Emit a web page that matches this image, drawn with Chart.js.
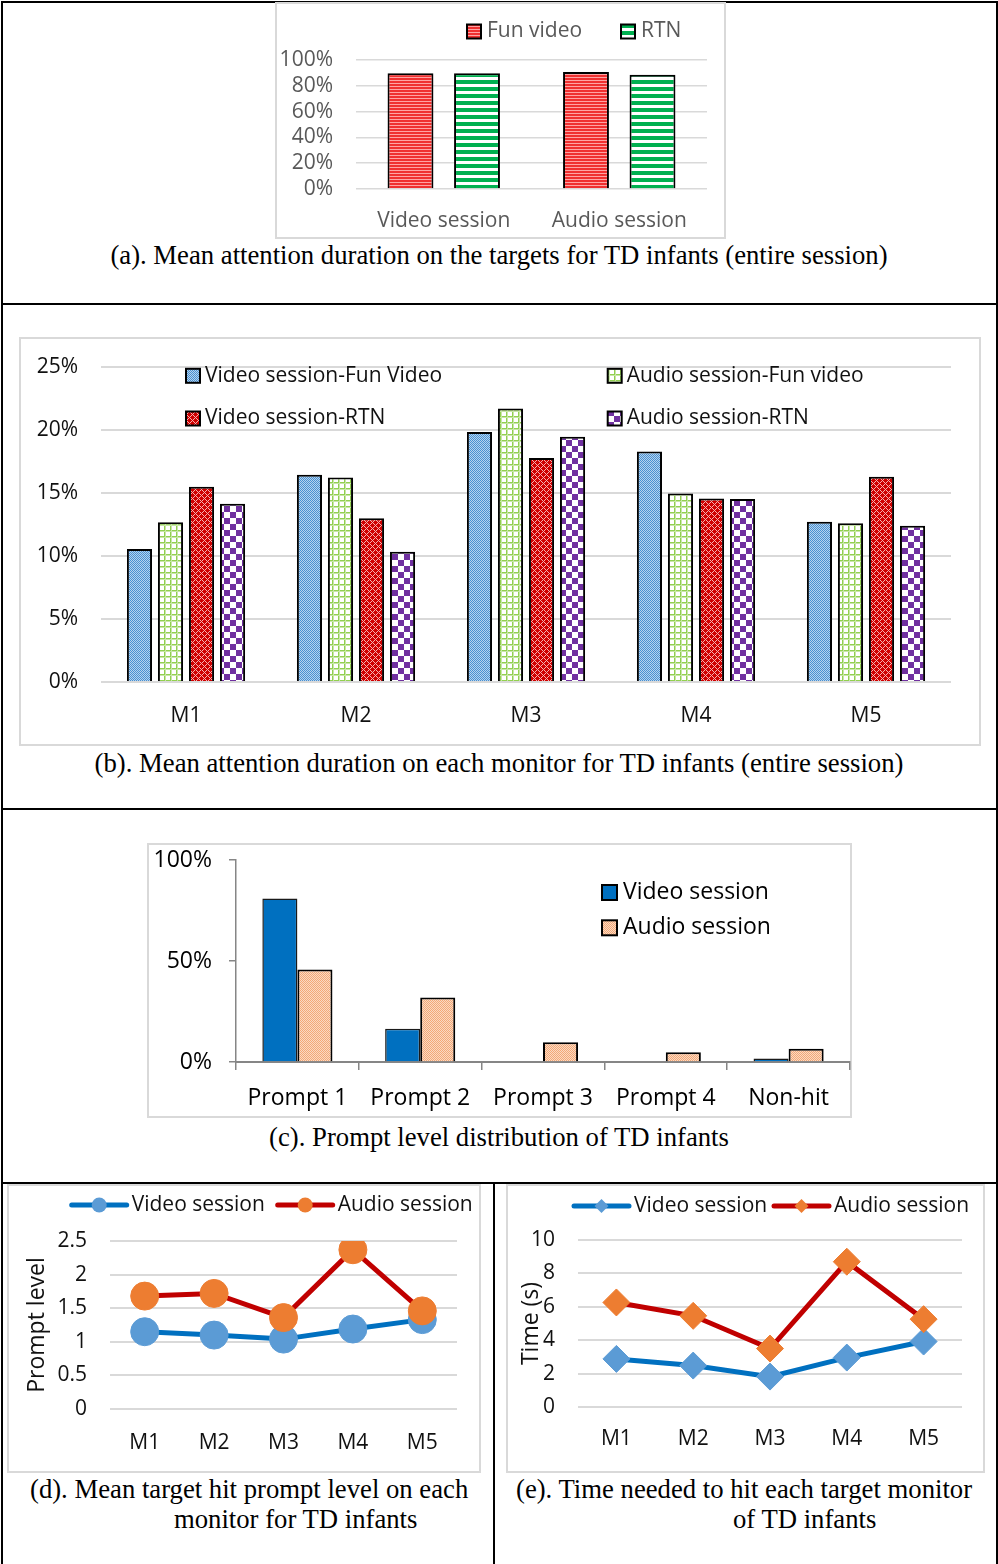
<!DOCTYPE html>
<html>
<head>
<meta charset="utf-8">
<script src="https://cdn.jsdelivr.net/npm/chart.js@4.4.1/dist/chart.umd.min.js"></script>
<style>
  body { margin: 0; background: #fff; }
  #page { position: relative; width: 998px; height: 1564px; overflow: hidden; background: #fff; }
  .rule { position: absolute; background: #000; }
  .frame { position: absolute; border: 2px solid #d9d9d9; box-sizing: border-box; }
  canvas { position: absolute; }
  .cap { position: absolute; font-family: 'Liberation Serif', 'Times New Roman', serif; font-size: 26.7px;
         line-height: 30px; color: #000; white-space: nowrap; }
  .center { left: 0; width: 998px; text-align: center; }
</style>
</head>
<body>
<div id="page">
  <!-- table rules -->
  <div class="rule" style="left:1px;top:1px;width:997px;height:2px"></div>
  <div class="rule" style="left:1px;top:1px;width:2px;height:1563px"></div>
  <div class="rule" style="left:996px;top:1px;width:2px;height:1563px"></div>
  <div class="rule" style="left:1px;top:303px;width:997px;height:2px"></div>
  <div class="rule" style="left:1px;top:808px;width:997px;height:2px"></div>
  <div class="rule" style="left:1px;top:1182px;width:997px;height:2px"></div>
  <div class="rule" style="left:493px;top:1182px;width:2px;height:382px"></div>

  <!-- chart frames -->
  <div class="frame" style="left:275px;top:2px;width:451px;height:237px"></div>
  <div class="frame" style="left:19px;top:337px;width:962px;height:409px"></div>
  <div class="frame" style="left:147px;top:843px;width:705px;height:275px"></div>
  <div class="frame" style="left:7px;top:1184px;width:474px;height:289px"></div>
  <div class="frame" style="left:506px;top:1184px;width:479px;height:289px"></div>

  <canvas id="chartA" width="449" height="235" style="left:276px;top:3px"></canvas>
  <canvas id="chartB" width="960" height="407" style="left:20px;top:338px"></canvas>
  <canvas id="chartC" width="703" height="273" style="left:148px;top:844px"></canvas>
  <canvas id="chartD" width="472" height="287" style="left:8px;top:1185px"></canvas>
  <canvas id="chartE" width="478" height="287" style="left:506px;top:1185px"></canvas>

  <div class="cap center" style="top:240px">(a). Mean attention duration on the targets for TD infants (entire session)</div>
  <div class="cap center" style="top:748px">(b). Mean attention duration on each monitor for TD infants (entire session)</div>
  <div class="cap center" style="top:1122px">(c). Prompt level distribution of TD infants</div>
  <div class="cap" style="left:30px;top:1474px">(d). Mean target hit prompt level on each</div>
  <div class="cap" style="left:174px;top:1504px">monitor for TD infants</div>
  <div class="cap" style="left:516px;top:1474px">(e). Time needed to hit each target monitor</div>
  <div class="cap" style="left:733px;top:1504px">of TD infants</div>
</div>

<script>
// (a) share of session time spent on the targets
var sessionLabels = ['Video session', 'Audio session'];
var funVideoShare = [0.897, 0.907];
var rtnShare = [0.897, 0.886];

// (b) share of time on each monitor
var monitorLabels = ['M1', 'M2', 'M3', 'M4', 'M5'];
var videoFunByMonitor = [0.1056, 0.1645, 0.1984, 0.1830, 0.1272];
var audioFunByMonitor = [0.1267, 0.1624, 0.2170, 0.1497, 0.1259];
var videoRtnByMonitor = [0.1550, 0.1300, 0.1778, 0.1457, 0.1629];
var audioRtnByMonitor = [0.1415, 0.1034, 0.1947, 0.1452, 0.1240];

// (c) prompt level distribution
var promptLabels = ['Prompt 1', 'Prompt 2', 'Prompt 3', 'Prompt 4', 'Non-hit'];
var videoPromptShare = [0.81, 0.165, 0, 0, 0.017];
var audioPromptShare = [0.458, 0.319, 0.098, 0.048, 0.066];

// (d) mean hit prompt level per monitor
var videoPromptLevel = [1.15, 1.10, 1.04, 1.19, 1.33];
var audioPromptLevel = [1.68, 1.72, 1.36, 2.37, 1.46];

// (e) time to hit per monitor, seconds
var videoHitTime = [2.88, 2.48, 1.82, 2.96, 3.92];
var audioHitTime = [6.26, 5.46, 3.50, 8.70, 5.26];

Chart.defaults.font.family = "'Open Sans', sans-serif";
Chart.defaults.animation = false;
Chart.defaults.devicePixelRatio = 1;

// Build a repeating fill from a tiny tile.
function tile(w, h, paint) {
    var c = document.createElement('canvas');
    c.width = w;
    c.height = h;
    paint(c.getContext('2d'));
    return c.getContext('2d').createPattern(c, 'repeat');
}

var redStripes = tile(1, 3, function(g) {
    g.fillStyle = '#f03030'; g.fillRect(0, 0, 1, 2);
    g.fillStyle = '#ffa3a3'; g.fillRect(0, 2, 1, 1);
});
var greenStripes = tile(1, 7, function(g) {
    g.fillStyle = '#ffffff'; g.fillRect(0, 0, 1, 7);
    g.fillStyle = '#00b050'; g.fillRect(0, 0, 1, 4);
});
var blueDots = tile(2, 2, function(g) {
    g.fillStyle = '#b4d3ef'; g.fillRect(0, 0, 2, 2);
    g.fillStyle = '#4a90d0'; g.fillRect(0, 0, 1, 1); g.fillRect(1, 1, 1, 1);
});
var greenGrid = tile(6, 6, function(g) {
    g.fillStyle = '#ffffff'; g.fillRect(0, 0, 6, 6);
    g.fillStyle = '#92d050'; g.fillRect(0, 0, 6, 1); g.fillRect(0, 0, 1, 6);
    g.fillStyle = '#c8e6a8'; g.fillRect(0, 1, 6, 1); g.fillRect(1, 0, 1, 6);
});
var redCross = tile(6, 6, function(g) {
    g.fillStyle = '#d00000'; g.fillRect(0, 0, 6, 6);
    g.fillStyle = '#f6b0b0';
    [[0, 0], [2, 0], [1, 1], [0, 2], [2, 2], [3, 3], [5, 3], [4, 4], [3, 5], [5, 5]].forEach(function(p) {
        g.fillRect(p[0], p[1], 1, 1);
    });
});
var purpleCheck = tile(12, 12, function(g) {
    g.fillStyle = '#ffffff'; g.fillRect(0, 0, 12, 12);
    g.fillStyle = '#7030a0'; g.fillRect(0, 0, 6, 6); g.fillRect(6, 6, 6, 6);
});
var peachDots = tile(2, 2, function(g) {
    g.fillStyle = '#fbd9c2'; g.fillRect(0, 0, 2, 2);
    g.fillStyle = '#f2a877'; g.fillRect(0, 0, 1, 1); g.fillRect(1, 1, 1, 1);
});

function drawMarker(ctx, style, x, y, r, fill) {
    ctx.fillStyle = fill;
    ctx.beginPath();
    if (style === 'rectRot') {
        ctx.moveTo(x, y - r); ctx.lineTo(x + r, y); ctx.lineTo(x, y + r); ctx.lineTo(x - r, y);
        ctx.closePath();
    } else {
        ctx.arc(x, y, r, 0, Math.PI * 2);
    }
    ctx.fill();
}

// Legend drawn at fixed spots, one per dataset, in the Excel style.
var placedLegend = {
    id: 'placedLegend',
    afterDraw: function(chart, _args, opts) {
        if (!opts.spots) {
            return;
        }
        var ctx = chart.ctx;
        ctx.save();
        ctx.font = opts.font;
        ctx.textBaseline = 'middle';
        ctx.textAlign = 'left';
        chart.data.datasets.forEach(function(ds, i) {
            var x = opts.spots[i][0];
            var y = opts.spots[i][1];
            var textX;
            if (opts.swatch === 'box') {
                var s = opts.size;
                ctx.fillStyle = ds.backgroundColor;
                ctx.fillRect(x, y - s / 2, s, s);
                ctx.lineWidth = 2;
                ctx.strokeStyle = '#000';
                ctx.strokeRect(x, y - s / 2, s, s);
                textX = x + s + opts.gap;
            } else {
                ctx.strokeStyle = ds.borderColor;
                ctx.lineWidth = ds.borderWidth;
                ctx.lineCap = 'round';
                ctx.beginPath();
                ctx.moveTo(x, y);
                ctx.lineTo(x + opts.lineLen, y);
                ctx.stroke();
                drawMarker(ctx, ds.pointStyle, x + opts.lineLen / 2, y, opts.markerRadius, ds.pointBackgroundColor);
                textX = x + opts.lineLen + opts.gap;
            }
            ctx.fillStyle = opts.color;
            ctx.fillText(ds.label, textX, y);
        });
        ctx.restore();
    }
};

function pct(v) {
    return Math.round(v * 100) + '%';
}

// Pin the axis width and drop the label overhang so layout.padding sets the plot top.
function fixWidth(w) {
    return function(scale) {
        scale.width = w;
        scale.paddingTop = 0;
        scale.paddingBottom = 0;
    };
}

function fixHeight(h) {
    return function(scale) {
        scale.height = h;
        scale.paddingLeft = 0;
        scale.paddingRight = 0;
    };
}

// (a) attention on targets per session
new Chart(document.getElementById('chartA'), {
    type: 'bar',
    data: {
        labels: sessionLabels,
        datasets: [
            {label: 'Fun video', data: funVideoShare, backgroundColor: redStripes},
            {label: 'RTN', data: rtnShare, backgroundColor: greenStripes}
        ]
    },
    options: {
        responsive: false,
        layout: {padding: {left: 0, right: 18, top: 57, bottom: 0}},
        datasets: {bar: {borderColor: '#000', borderWidth: 2, categoryPercentage: 0.758, barPercentage: 0.69}},
        scales: {
            x: {
                grid: {display: false},
                border: {display: false},
                ticks: {color: '#595959', font: {size: 21}, padding: 11},
                afterFit: fixHeight(49)
            },
            y: {
                min: 0, max: 1,
                grid: {color: '#d9d9d9', lineWidth: 1.5, drawTicks: false},
                border: {display: false},
                ticks: {stepSize: 0.2, autoSkip: false, color: '#595959', font: {size: 21}, padding: 23, callback: pct},
                afterFit: fixWidth(80)
            }
        },
        plugins: {
            legend: {display: false},
            tooltip: {enabled: false},
            placedLegend: {
                swatch: 'box', size: 14, gap: 6, font: "21px 'Open Sans'", color: '#595959',
                spots: [[191, 28.5], [345, 28.5]]
            }
        }
    },
    plugins: [placedLegend]
});

// (b) attention per monitor
new Chart(document.getElementById('chartB'), {
    type: 'bar',
    data: {
        labels: monitorLabels,
        datasets: [
            {label: 'Video session-Fun Video', data: videoFunByMonitor, backgroundColor: blueDots},
            {label: 'Audio session-Fun video', data: audioFunByMonitor, backgroundColor: greenGrid},
            {label: 'Video session-RTN', data: videoRtnByMonitor, backgroundColor: redCross},
            {label: 'Audio session-RTN', data: audioRtnByMonitor, backgroundColor: purpleCheck}
        ]
    },
    options: {
        responsive: false,
        layout: {padding: {left: 0, right: 29, top: 29, bottom: 0}},
        datasets: {bar: {borderColor: '#000', borderWidth: 2, categoryPercentage: 0.73, barPercentage: 0.81}},
        scales: {
            x: {
                grid: {display: false},
                border: {display: false},
                ticks: {color: '#111', font: {size: 21}, padding: 13},
                afterFit: fixHeight(63)
            },
            y: {
                min: 0, max: 0.25,
                grid: {color: '#d9d9d9', lineWidth: 2, drawTicks: false},
                border: {display: false},
                ticks: {stepSize: 0.05, autoSkip: false, color: '#111', font: {size: 21}, padding: 23, callback: pct},
                afterFit: fixWidth(81)
            }
        },
        plugins: {
            legend: {display: false},
            tooltip: {enabled: false},
            placedLegend: {
                swatch: 'box', size: 14, gap: 5, font: "21px 'Open Sans'", color: '#111',
                spots: [[166, 37.8], [587.7, 37.8], [166, 80.5], [587.7, 80.5]]
            }
        }
    },
    plugins: [placedLegend]
});

// (c) prompt level distribution
new Chart(document.getElementById('chartC'), {
    type: 'bar',
    data: {
        labels: promptLabels,
        datasets: [
            {label: 'Video session', data: videoPromptShare, backgroundColor: '#0070c0',
             borderColor: '#1a1a1a', borderWidth: 1.5},
            {label: 'Audio session', data: audioPromptShare, backgroundColor: peachDots,
             borderColor: '#000', borderWidth: 2}
        ]
    },
    options: {
        responsive: false,
        layout: {padding: {left: 0, right: 1, top: 16, bottom: 0}},
        datasets: {bar: {categoryPercentage: 0.571, barPercentage: 1}},
        scales: {
            x: {
                grid: {drawOnChartArea: false, drawTicks: true, tickLength: 8, color: '#868686', lineWidth: 1.5},
                border: {display: true, color: '#868686', width: 2},
                ticks: {color: '#000', font: {size: 23}, padding: 15},
                afterFit: fixHeight(55)
            },
            y: {
                min: 0, max: 1,
                grid: {drawOnChartArea: false, drawTicks: true, tickLength: 7, color: '#868686', lineWidth: 1.5},
                border: {display: true, color: '#868686', width: 1.5},
                ticks: {stepSize: 0.5, color: '#000', font: {size: 23}, padding: 17, callback: pct},
                afterFit: fixWidth(88)
            }
        },
        plugins: {
            legend: {display: false},
            tooltip: {enabled: false},
            placedLegend: {
                swatch: 'box', size: 15, gap: 6, font: "23px 'Open Sans'", color: '#000',
                spots: [[454, 48.5], [454, 83.8]]
            }
        }
    },
    plugins: [placedLegend]
});

function lineOptions(cfg) {
    return {
        responsive: false,
        layout: {padding: {left: 0, right: cfg.right, top: cfg.top, bottom: 0}},
        scales: {
            x: {
                offset: true,
                grid: {display: false},
                border: {display: false},
                ticks: {color: '#111', font: {size: 21}, padding: cfg.xPad},
                afterFit: fixHeight(cfg.bottom)
            },
            y: {
                min: 0, max: cfg.max,
                grid: {color: '#d9d9d9', lineWidth: 2, drawTicks: false},
                border: {display: false},
                ticks: {stepSize: cfg.step, autoSkip: false, color: '#111', font: {size: 21}, padding: 23,
                        callback: function(v) { return String(v); }},
                title: {display: true, text: cfg.title, color: '#111', font: {size: 23},
                        padding: {top: cfg.titlePad, bottom: 0}},
                afterFit: fixWidth(cfg.left)
            }
        },
        plugins: {
            legend: {display: false},
            tooltip: {enabled: false},
            placedLegend: {
                swatch: 'line', lineLen: 55, gap: 5, markerRadius: cfg.markerRadius,
                font: "21px 'Open Sans'", color: '#111', spots: cfg.spots
            }
        }
    };
}

function session(label, data, line, marker, style, radius, order) {
    return {
        label: label, data: data, borderColor: line, borderWidth: 5,
        backgroundColor: marker, pointBackgroundColor: marker, pointBorderColor: marker,
        pointBorderWidth: 1, pointStyle: style, pointRadius: radius, order: order
    };
}

// (d) mean prompt level per monitor
new Chart(document.getElementById('chartD'), {
    type: 'line',
    data: {
        labels: monitorLabels,
        datasets: [
            session('Video session', videoPromptLevel, '#0070c0', '#5b9bd5', 'circle', 14, 1),
            session('Audio session', audioPromptLevel, '#c00000', '#ed7d31', 'circle', 14, 0)
        ]
    },
    options: lineOptions({
        left: 102, right: 23, top: 56, bottom: 63, xPad: 13, max: 2.5, step: 0.5,
        title: 'Prompt level', titlePad: 16, markerRadius: 7.5,
        spots: [[63.7, 20], [269.7, 20]]
    }),
    plugins: [placedLegend]
});

// (e) time to hit per monitor
new Chart(document.getElementById('chartE'), {
    type: 'line',
    data: {
        labels: monitorLabels,
        datasets: [
            session('Video session', videoHitTime, '#0070c0', '#5b9bd5', 'rectRot', 13.5, 1),
            session('Audio session', audioHitTime, '#c00000', '#ed7d31', 'rectRot', 13.5, 0)
        ]
    },
    options: lineOptions({
        left: 72, right: 22, top: 55, bottom: 65, xPad: 11, max: 10, step: 2,
        title: 'Time (s)', titlePad: 12, markerRadius: 7,
        spots: [[68, 21], [268, 21]]
    }),
    plugins: [placedLegend]
});
</script>
</body>
</html>
